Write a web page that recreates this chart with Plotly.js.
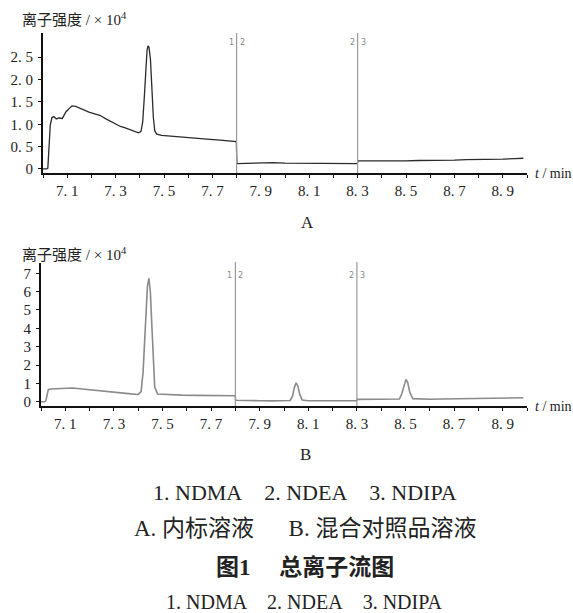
<!DOCTYPE html>
<html>
<head>
<meta charset="utf-8">
<script src="https://cdn.plot.ly/plotly-3.0.1.min.js"></script>
<style>html,body{margin:0;padding:0;background:#fff;}#chart{width:573px;height:613px;}</style>
</head>
<body>
<div id="chart"></div>
<script>
// Chromatogram A (internal standard solution), intensity ×10^4
var timeA = [7.000,7.015,7.020,7.025,7.030,7.037,7.045,7.055,7.065,7.080,7.095,7.110,7.120,7.135,7.150,7.170,7.190,7.210,7.235,7.260,7.280,7.300,7.320,7.340,7.360,7.380,7.395,7.405,7.412,7.418,7.424,7.430,7.434,7.438,7.444,7.450,7.456,7.462,7.470,7.490,7.510,7.540,7.570,7.600,7.630,7.660,7.690,7.720,7.750,7.780,7.799,7.801,7.850,7.900,7.950,8.000,8.050,8.100,8.150,8.200,8.250,8.299,8.301,8.350,8.400,8.450,8.500,8.550,8.600,8.650,8.700,8.750,8.800,8.850,8.900,8.950,8.985];
var intensityA = [0.00,0.00,0.02,0.60,0.98,1.15,1.17,1.12,1.14,1.13,1.28,1.36,1.41,1.40,1.36,1.31,1.27,1.24,1.20,1.12,1.06,1.00,0.95,0.92,0.88,0.85,0.81,0.84,1.05,1.55,2.20,2.66,2.75,2.72,2.45,1.75,1.15,0.85,0.78,0.75,0.74,0.72,0.71,0.69,0.68,0.67,0.66,0.65,0.63,0.62,0.61,0.12,0.13,0.13,0.14,0.13,0.13,0.12,0.13,0.12,0.13,0.12,0.18,0.18,0.17,0.18,0.18,0.19,0.19,0.20,0.20,0.21,0.21,0.22,0.22,0.23,0.24];
// Chromatogram B (mixed reference solution), intensity ×10^4
var timeB = [7.000,7.015,7.020,7.025,7.030,7.040,7.070,7.100,7.130,7.170,7.210,7.250,7.290,7.330,7.370,7.400,7.412,7.420,7.426,7.432,7.438,7.444,7.450,7.456,7.462,7.468,7.480,7.520,7.580,7.640,7.700,7.760,7.799,7.801,7.850,7.900,7.950,8.000,8.025,8.035,8.043,8.050,8.057,8.065,8.075,8.100,8.150,8.200,8.250,8.299,8.301,8.350,8.400,8.450,8.475,8.485,8.495,8.502,8.509,8.518,8.530,8.560,8.600,8.650,8.700,8.750,8.800,8.850,8.900,8.950,8.985];
var intensityB = [0.00,0.00,0.05,0.45,0.66,0.70,0.72,0.76,0.75,0.70,0.64,0.58,0.52,0.48,0.43,0.40,0.55,1.60,3.20,5.00,6.30,6.72,6.00,4.20,2.20,0.80,0.42,0.38,0.36,0.35,0.34,0.33,0.33,0.08,0.05,0.06,0.05,0.05,0.07,0.30,0.80,1.03,0.85,0.40,0.10,0.06,0.05,0.05,0.06,0.06,0.13,0.13,0.13,0.13,0.15,0.45,1.00,1.22,1.05,0.50,0.17,0.14,0.14,0.15,0.16,0.17,0.18,0.19,0.20,0.21,0.22];

var xTickVals = [7.1,7.3,7.5,7.7,7.9,8.1,8.3,8.5,8.7,8.9];
var xTickText = ["7. 1","7. 3","7. 5","7. 7","7. 9","8. 1","8. 3","8. 5","8. 7","8. 9"];
var yTickValsA = [0,0.5,1.0,1.5,2.0,2.5];
var yTickTextA = ["0","0. 5","1. 0","1. 5","2. 0","2. 5"];
var yTickValsB = [0,1,2,3,4,5,6,7];
var yTickTextB = ["0","1","2","3","4","5","6","7"];
var segmentBounds = [7.8, 8.3];
var segmentLabels = [["1","2"],["2","3"]];

var W = 573, H = 613;
function px(x){return x/W;}
function py(y){return 1 - y/H;}

var serif = "Liberation Serif, DejaVu Serif, serif";
var cjk = "Liberation Serif, Noto Sans CJK SC, serif";

var traces = [
  {x: timeA, y: intensityA, xaxis:'x', yaxis:'y', mode:'lines', line:{color:'#2b2b2b', width:1.3}, hoverinfo:'skip'},
  {x: timeB, y: intensityB, xaxis:'x2', yaxis:'y2', mode:'lines', line:{color:'#8a8a8a', width:1.6}, hoverinfo:'skip'}
];

function xaxisDef(domain, anchor){
  return {domain: domain, anchor: anchor, range:[7.0, 9.0], showgrid:false, zeroline:false,
    showline:true, linecolor:'#111', linewidth:2, tickvals:xTickVals, ticktext:xTickText,
    ticks:'outside', ticklen:3, tickwidth:1, tickcolor:'#111',
    minor:{dtick:0.1, tick0:7.0, ticks:'outside', ticklen:3, tickcolor:'#111'},
    tickfont:{family:serif, size:15, color:'#222'}, fixedrange:true};
}
function yaxisDef(domain, anchor, range, vals, text){
  return {domain: domain, anchor: anchor, range: range, showgrid:false, zeroline:false,
    showline:true, linecolor:'#111', linewidth:2, tickvals:vals, ticktext:text,
    ticks:'outside', ticklen:3, tickwidth:1, tickcolor:'#111', ticklabelstandoff:2,
    tickfont:{family:serif, size:15, color:'#222'}, fixedrange:true};
}

var shapes = [];
var annotations = [];
var panels = [
  {xr:'x', yTopPx:33, yBotPx:173, labelPx:42},
  {xr:'x2', yTopPx:262, yBotPx:406, labelPx:275}
];
panels.forEach(function(p){
  segmentBounds.forEach(function(b, i){
    shapes.push({type:'line', xref:p.xr, yref:'paper', x0:b, x1:b, y0:py(p.yBotPx), y1:py(p.yTopPx),
      line:{color:'#9a9a9a', width:1.2}});
    annotations.push({xref:p.xr, yref:'paper', x:b, y:py(p.labelPx), text:segmentLabels[i][0],
      showarrow:false, xanchor:'right', yanchor:'middle', xshift:-1,
      font:{family:'DejaVu Sans', size:8, color:'#888'}});
    annotations.push({xref:p.xr, yref:'paper', x:b, y:py(p.labelPx), text:segmentLabels[i][1],
      showarrow:false, xanchor:'left', yanchor:'middle', xshift:1,
      font:{family:'DejaVu Sans', size:8, color:'#888'}});
  });
});

function addText(text, xPx, yPx, size, opts){
  opts = opts || {};
  annotations.push({xref:'paper', yref:'paper', x:px(xPx), y:py(yPx), text:text, showarrow:false,
    xanchor: opts.xanchor || 'center', yanchor:'middle',
    font:{family: opts.family || cjk, size:size, color: opts.color || '#222'}});
}
addText("离子强度 / × 10<sup>4</sup>", 20, 19, 15, {xanchor:'left'});
addText("离子强度 / × 10<sup>4</sup>", 20, 254, 15, {xanchor:'left'});
addText("<i>t</i> / min", 533, 173, 14, {xanchor:'left', family:serif});
addText("<i>t</i> / min", 533, 406, 14, {xanchor:'left', family:serif});
addText("A", 307, 223, 17, {family:serif});
addText("B", 305, 455, 17, {family:serif});
addText("1. NDMA&nbsp;&nbsp;&nbsp;&nbsp;2. NDEA&nbsp;&nbsp;&nbsp;&nbsp;3. NDIPA", 305, 492, 22, {family:serif});
addText("A. 内标溶液&nbsp;&nbsp;&nbsp;&nbsp;&nbsp;&nbsp;B. 混合对照品溶液", 305, 528, 23);
addText("<b>图1&nbsp;&nbsp;&nbsp;&nbsp;&nbsp;总离子流图</b>", 305, 567, 23);
addText("1. NDMA&nbsp;&nbsp;&nbsp;&nbsp;2. NDEA&nbsp;&nbsp;&nbsp;&nbsp;3. NDIPA", 304, 602, 20, {family:serif});

var layout = {
  width: W, height: H, autosize:false,
  margin:{l:0, r:0, t:0, b:0, pad:0},
  paper_bgcolor:'#fff', plot_bgcolor:'rgba(0,0,0,0)',
  showlegend:false,
  xaxis: xaxisDef([px(43), px(527)], 'y'),
  yaxis: yaxisDef([py(173), py(33)], 'x', [-0.09, 3.04], yTickValsA, yTickTextA),
  xaxis2: xaxisDef([px(41), px(527)], 'y2'),
  yaxis2: yaxisDef([py(406), py(263)], 'x2', [-0.23, 7.56], yTickValsB, yTickTextB),
  shapes: shapes,
  annotations: annotations
};

Plotly.newPlot('chart', traces, layout, {staticPlot:true, displayModeBar:false});
</script>
</body>
</html>
